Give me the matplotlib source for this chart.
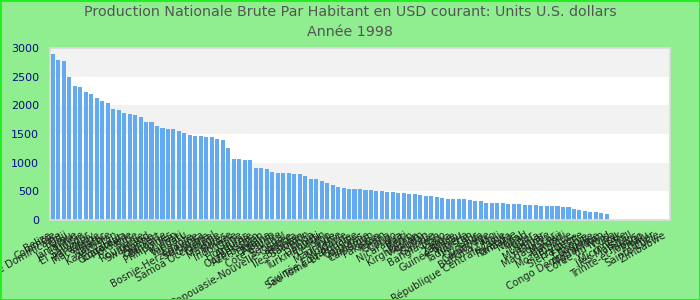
import matplotlib
matplotlib.use("Agg")
import matplotlib.pyplot as plt
from matplotlib.patches import Rectangle
import numpy as np

countries = [
    "Belize", "Colombie", "République Dominicaine", "Fidji", "Pérou", "Jamaïque",
    "Tunisie", "El Salvador", "Paraguay", "Macédoine", "Maroc", "Namibie",
    "Kazakhstan", "Équateur", "Guatemala", "Jordanie", "Syrie", "Roumanie",
    "Swaziland", "Algérie", "Cap-Vert", "Bulgarie", "Philippines", "Iran",
    "Kiribati", "Vanuatu", "Égypte", "Bosnie-Herzégovine", "Sri Lanka", "Guyana",
    "Samoa Occidental", "Géorgie", "Maldives", "Bolivie", "Indonésie", "Chine",
    "Honduras", "Arménie", "Ouzbékistan", "Azerbaïdjan", "Ukraine", "Albanie",
    "Côte d'Ivoire", "Sénégal", "Papouasie-Nouvelle-Guinée", "Angola", "Bhoutan",
    "Îles Salomon", "Tonga", "Djibouti", "Turkménistan", "Lesotho", "Inde",
    "Mauritanie", "Moldavie", "Guinée Équatoriale", "Sao Tomé-et-Principe",
    "Comores", "Mongolie", "Cameroun", "Pakistan", "Yémen", "Ghana", "Congo",
    "Nicaragua", "Haïti", "Bénin", "Kirghizistan", "Vietnam", "Soudan", "Gambie",
    "Bangladesh", "Togo", "Kenya", "Zambie", "Guinée-Bissau", "Nigeria",
    "Tadjikistan", "Laos", "Ouganda", "Cambodge", "Burkina Faso", "Mali",
    "République Centrafricaine", "Rwanda", "Tanzanie", "Népal", "Tchad", "Niger",
    "Libéria", "Myanmar", "Guinée", "Madagascar", "Malawi", "Burundi",
    "Mozambique", "Érythrée", "Sierra Leone", "Éthiopie", "Somalie",
    "Congo Démocratique", "Afghanistan", "Corée du Nord", "Cuba", "Irak",
    "Micronésie", "Îles Marshall", "Palaos", "Trinité-et-Tobago", "Tuvalu",
    "Timor", "Sainte-Lucie", "Zimbabwe",
]

gnp_values = [
    2900, 2796, 2778, 2500, 2340, 2324, 2236, 2200, 2132, 2080, 2044, 1940,
    1922, 1870, 1852, 1835, 1800, 1712, 1712, 1642, 1607, 1590, 1590, 1555,
    1520, 1485, 1468, 1468, 1450, 1450, 1415, 1398, 1258, 1066, 1066, 1048,
    1048, 909, 909, 891, 839, 821, 821, 821, 804, 804, 769, 716, 716, 681,
    646, 612, 577, 559, 542, 542, 542,
    524, 524, 507, 507, 489, 489, 472, 472, 454, 454, 437, 419, 419, 402,
    384, 367, 367, 367, 367, 349, 332, 332, 297, 297, 297, 297, 280, 280,
    280, 262, 262, 262,
    245, 245, 245, 245, 227, 227, 192, 175, 157, 140, 140, 122, 105,
    None, None, None, None, None, None, None, None, None, None, None,
]

yticks = [0, 500, 1000, 1500, 2000, 2500, 3000]

title_text = "Production Nationale Brute Par Habitant en USD courant: Units U.S. dollars\nAnnée 1998"

heights = np.array([np.nan if v is None else v for v in gnp_values], dtype=float)
x = np.arange(len(countries))

fig = plt.figure(figsize=(7, 3), dpi=100)
fig.patch.set_facecolor("#90ee90")
ax = fig.add_axes([50 / 700, 1 - 220 / 300, 620 / 700, 172 / 300])
ax.set_facecolor("white")

# alternating bands
for i in range(len(yticks) - 1):
    if i % 2 == 1:
        ax.axhspan(yticks[i], yticks[i + 1], color="#f2f2f2", zorder=0, lw=0)

ax.bar(x, heights, width=0.74, color="#64aaf0", zorder=2)

ax.set_xlim(-0.5, len(countries) - 0.5)
ax.set_ylim(yticks[0], yticks[-1])
ax.set_yticks(yticks)
ax.set_yticklabels([str(t) for t in yticks], color="#0a0a8a", fontsize=8)
ax.set_xticks(x)
ax.set_xticklabels(countries, rotation=30, ha="right", fontsize=7.2, color="#222222")
ax.tick_params(axis="both", length=0)
ax.tick_params(axis="x", pad=7)
ax.tick_params(axis="y", pad=8)
for s in ax.spines.values():
    s.set_color("#dcdcdc")
    s.set_linewidth(1.2)

fig.text(0.5, 1 - 22 / 300, title_text, ha="center", va="center",
         fontsize=10.3, color="#555555", linespacing=1.5)

fig.add_artist(Rectangle((0, 0), 1, 1, transform=fig.transFigure, fill=False,
                         edgecolor="#22ee22", lw=2.2))

fig.savefig("out.png", dpi=100, facecolor=fig.get_facecolor())
